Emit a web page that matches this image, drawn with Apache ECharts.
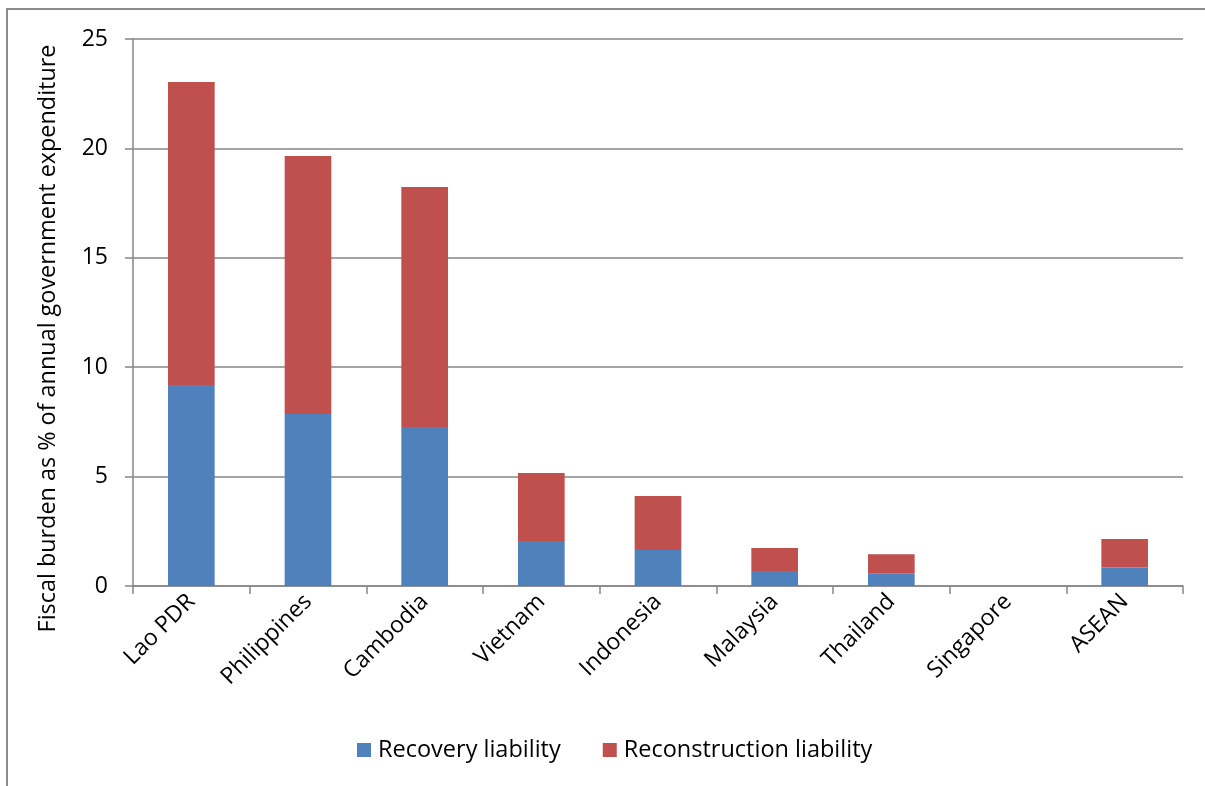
<!DOCTYPE html>
<html>
<head>
<meta charset="utf-8">
<script src="https://cdn.jsdelivr.net/npm/echarts@6/dist/echarts.min.js"></script>
<style>
  html, body { margin: 0; padding: 0; background: #fff; }
  #chart { width: 1205px; height: 786px; }
</style>
</head>
<body>
<div id="chart"></div>
<script>
// Fiscal burden of disaster liabilities by country
const categories = ['Lao PDR', 'Philippines', 'Cambodia', 'Vietnam', 'Indonesia', 'Malaysia', 'Thailand', 'Singapore', 'ASEAN'];
const recoveryLiability = [9.19, 7.86, 7.27, 2.06, 1.65, 0.69, 0.58, 0, 0.85];
const reconstructionLiability = [13.84, 11.79, 10.97, 3.10, 2.46, 1.05, 0.87, 0, 1.30];
const yTicks = [0, 5, 10, 15, 20, 25];

const FONT = '"Open Sans", "Noto Sans", sans-serif';
const chart = echarts.init(document.getElementById('chart'), null, { renderer: 'canvas' });

chart.setOption({
  animation: false,
  backgroundColor: '#ffffff',
  graphic: [{
    type: 'rect',
    shape: { x: 7, y: 9, width: 1250, height: 820 },
    style: { fill: 'none', stroke: '#8c8c8c', lineWidth: 2 },
    silent: true
  }],
  grid: { left: 133, right: 22, top: 39, bottom: 200, containLabel: false },
  legend: {
    bottom: 24,
    left: 357,
    padding: 0,
    itemWidth: 14,
    itemHeight: 14,
    itemGap: 42,
    icon: 'rect',
    textStyle: { fontFamily: FONT, fontSize: 23.5, color: '#000', padding: [0, 0, 0, 2] },
    data: ['Recovery liability', 'Reconstruction liability']
  },
  xAxis: {
    type: 'category',
    data: categories,
    axisLine: { lineStyle: { color: '#868686', width: 1.5 } },
    axisTick: { show: true, length: 8, alignWithLabel: false, lineStyle: { color: '#868686', width: 1.5 } },
    axisLabel: { rotate: 45, margin: 12, fontFamily: FONT, fontSize: 23, color: '#000', interval: 0 }
  },
  yAxis: {
    type: 'value',
    min: yTicks[0],
    max: yTicks[yTicks.length - 1],
    interval: 5,
    name: 'Fiscal burden as % of annual government expenditure',
    nameLocation: 'middle',
    nameGap: 73,
    nameTextStyle: { fontFamily: FONT, fontSize: 23.4, color: '#000', padding: [0, 52, 0, 0] },
    axisLine: { show: true, lineStyle: { color: '#868686', width: 1.5 } },
    axisTick: { show: true, length: 8, lineStyle: { color: '#868686', width: 1.5 } },
    axisLabel: { margin: 25, fontFamily: FONT, fontSize: 23, color: '#000' },
    splitLine: { show: true, lineStyle: { color: '#868686', width: 1.5 } }
  },
  series: [
    {
      name: 'Recovery liability',
      type: 'bar',
      stack: 'total',
      data: recoveryLiability,
      barCategoryGap: '60%',
      itemStyle: { color: '#4f81bd' }
    },
    {
      name: 'Reconstruction liability',
      type: 'bar',
      stack: 'total',
      data: reconstructionLiability,
      barCategoryGap: '60%',
      itemStyle: { color: '#c0504d' }
    }
  ]
});
</script>
</body>
</html>
